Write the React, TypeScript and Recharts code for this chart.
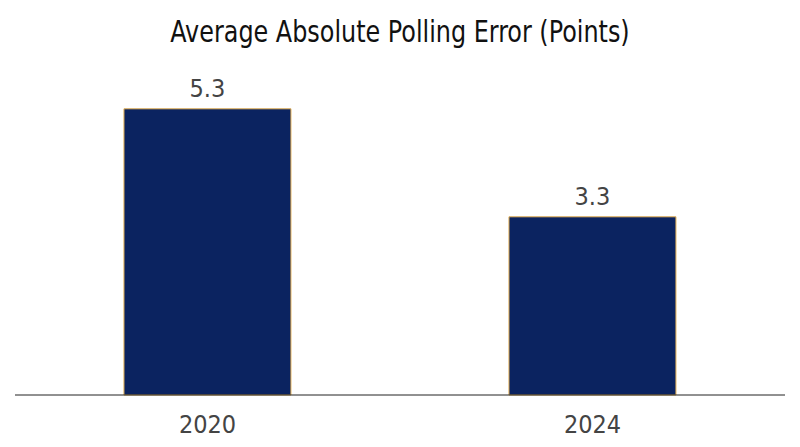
import { BarChart, Bar, XAxis, YAxis, LabelList } from "recharts";

const years = ["2020", "2024"];
const errors = [5.3, 3.3];

const data = years.map((year, i) => ({ year, value: errors[i] }));

const font = '"Liberation Sans Narrow", "DejaVu Sans Condensed", Roboto, sans-serif';

export default function App() {
  return (
    <div
      style={{
        position: "absolute",
        left: 0,
        top: 0,
        width: 800,
        height: 447,
        background: "#fff",
        fontFamily: font,
      }}
    >
      <div
        style={{
          position: "absolute",
          top: 14,
          left: 0,
          width: 800,
          textAlign: "center",
          fontSize: 30,
          color: "#111",
          transform: "scaleX(0.885)",
          transformOrigin: "center",
        }}
      >
        Average Absolute Polling Error (Points)
      </div>
      <BarChart
        width={800}
        height={447}
        data={data}
        margin={{ top: 71, right: 15, bottom: 22, left: 15 }}
        barCategoryGap="28.3%"
      >
        <XAxis
          dataKey="year"
          axisLine={{ stroke: "#222", strokeWidth: 1 }}
          tickLine={false}
          tickMargin={14}
          tick={{ fill: "#444", fontSize: 25, fontFamily: font }}
        />
        <YAxis hide domain={[0, 6]} />
        <Bar
          dataKey="value"
          fill="#0b2360"
          stroke="#e6b255"
          strokeWidth={1}
          isAnimationActive={false}
        >
          <LabelList
            dataKey="value"
            position="top"
            offset={12}
            fill="#444"
            fontSize={25}
            fontFamily={font}
          />
        </Bar>
      </BarChart>
    </div>
  );
}
